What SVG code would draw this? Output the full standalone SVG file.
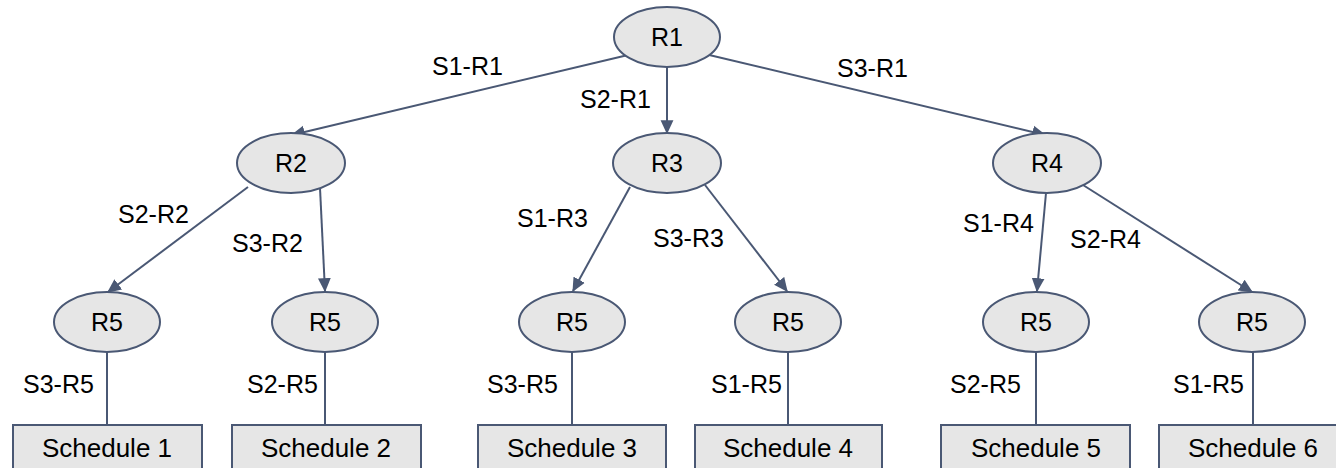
<svg xmlns="http://www.w3.org/2000/svg" width="1336" height="468" viewBox="0 0 1336 468">
<style>
.node ellipse{fill:#e6e6e6;stroke:#4a5874;stroke-width:2}
.box rect{fill:#e6e6e6;stroke:#4a5874;stroke-width:2}
text{font-family:"Liberation Sans",Arial,sans-serif;font-size:25px;fill:#000}
.nt{text-anchor:middle}
.st{text-anchor:middle;font-size:26px}
.edges line{stroke:#4a5874;stroke-width:2}
.arr{marker-end:url(#ah)}
</style>
<defs>
<marker id="ah" markerUnits="userSpaceOnUse" markerWidth="14" markerHeight="14" viewBox="0 0 12 12" refX="11" refY="6" orient="auto">
<path d="M0,0.5 L12,6 L0,11.5 z" fill="#4a5874"/>
</marker>
</defs>
<rect width="1336" height="468" fill="#fff"/>
<g class="edges">
<line class="arr" x1="628" y1="55" x2="292" y2="135"/>
<line class="arr" x1="667" y1="67" x2="667" y2="133"/>
<line class="arr" x1="705" y1="54" x2="1045" y2="135"/>
<line class="arr" x1="248" y1="187" x2="108" y2="292"/>
<line class="arr" x1="320" y1="188" x2="325" y2="291"/>
<line class="arr" x1="630" y1="187" x2="573" y2="291"/>
<line class="arr" x1="705" y1="185" x2="787" y2="291"/>
<line class="arr" x1="1046" y1="193" x2="1037" y2="291"/>
<line class="arr" x1="1083" y1="185" x2="1252" y2="292"/>
<line x1="107" y1="352" x2="107" y2="425"/>
<line x1="325" y1="352" x2="325" y2="425"/>
<line x1="572" y1="352" x2="572" y2="425"/>
<line x1="788" y1="352" x2="788" y2="425"/>
<line x1="1036" y1="352" x2="1036" y2="425"/>
<line x1="1253" y1="352" x2="1253" y2="425"/>
<text x="432" y="75">S1-R1</text>
<text x="580" y="108">S2-R1</text>
<text x="837" y="77">S3-R1</text>
<text x="118" y="223">S2-R2</text>
<text x="232" y="252">S3-R2</text>
<text x="517" y="227">S1-R3</text>
<text x="653" y="247">S3-R3</text>
<text x="963" y="232">S1-R4</text>
<text x="1070" y="248">S2-R4</text>
<text x="23" y="393">S3-R5</text>
<text x="247" y="393">S2-R5</text>
<text x="487" y="393">S3-R5</text>
<text x="711" y="393">S1-R5</text>
<text x="950" y="393">S2-R5</text>
<text x="1173" y="393">S1-R5</text>
</g>
<g id="r1" class="node"><ellipse cx="667" cy="37" rx="53" ry="30"/><text class="nt" x="667" y="46">R1</text></g>
<g id="r2" class="node"><ellipse cx="291" cy="163" rx="54" ry="30"/><text class="nt" x="291" y="172">R2</text></g>
<g id="r3" class="node"><ellipse cx="667" cy="163" rx="54" ry="30"/><text class="nt" x="667" y="172">R3</text></g>
<g id="r4" class="node"><ellipse cx="1047" cy="163" rx="54" ry="30"/><text class="nt" x="1047" y="172">R4</text></g>
<g id="r5a" class="node"><ellipse cx="107" cy="322" rx="53" ry="30"/><text class="nt" x="107" y="331">R5</text></g>
<g id="r5b" class="node"><ellipse cx="325" cy="322" rx="53" ry="30"/><text class="nt" x="325" y="331">R5</text></g>
<g id="r5c" class="node"><ellipse cx="572" cy="322" rx="53" ry="30"/><text class="nt" x="572" y="331">R5</text></g>
<g id="r5d" class="node"><ellipse cx="788" cy="322" rx="53" ry="30"/><text class="nt" x="788" y="331">R5</text></g>
<g id="r5e" class="node"><ellipse cx="1036" cy="322" rx="53" ry="30"/><text class="nt" x="1036" y="331">R5</text></g>
<g id="r5f" class="node"><ellipse cx="1252" cy="322" rx="53" ry="30"/><text class="nt" x="1252" y="331">R5</text></g>
<g id="s1" class="box"><rect x="13" y="425" width="189" height="50"/><text class="st" x="107" y="457">Schedule 1</text></g>
<g id="s2" class="box"><rect x="232" y="425" width="189" height="50"/><text class="st" x="326" y="457">Schedule 2</text></g>
<g id="s3" class="box"><rect x="478" y="425" width="188" height="50"/><text class="st" x="572" y="457">Schedule 3</text></g>
<g id="s4" class="box"><rect x="695" y="425" width="187" height="50"/><text class="st" x="788" y="457">Schedule 4</text></g>
<g id="s5" class="box"><rect x="941" y="425" width="189" height="50"/><text class="st" x="1036" y="457">Schedule 5</text></g>
<g id="s6" class="box"><rect x="1159" y="425" width="188" height="50"/><text class="st" x="1253" y="457">Schedule 6</text></g>
</svg>
